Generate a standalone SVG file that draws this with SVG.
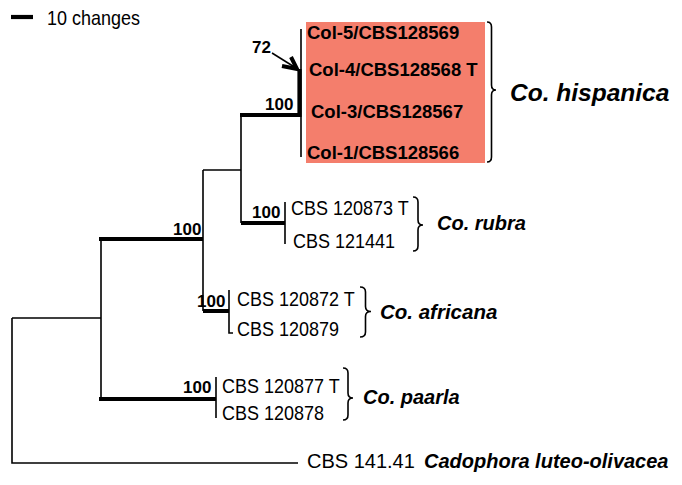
<svg xmlns="http://www.w3.org/2000/svg" width="682" height="485" viewBox="0 0 682 485">
<style>
.thin{fill:none;stroke:#000;stroke-width:1.6}
.thick{fill:none;stroke:#000;stroke-width:4.2}
.brace{fill:none;stroke:#000;stroke-width:1.6}
.reg{font-family:"Liberation Sans",Arial,sans-serif;font-size:18px;fill:#000}
.out{font-family:"Liberation Sans",Arial,sans-serif;font-size:20px;fill:#000}
.col{font-family:"Liberation Sans",Arial,sans-serif;font-size:18.5px;font-weight:bold;fill:#000}
.sup{font-family:"Liberation Sans",Arial,sans-serif;font-size:17px;font-weight:bold;fill:#000}
.sp{font-family:"Liberation Sans",Arial,sans-serif;font-weight:bold;font-style:italic;fill:#000}
</style>
<rect width="682" height="485" fill="#fff"/>
<g id="scale">
<line class="thick" x1="11" y1="17" x2="33" y2="17"/>
<text class="reg" transform="translate(47,25) scale(1,1.15)">10 changes</text>
</g>
<g id="connectors">
<path class="thin" d="M12,318 V463 H298 M12,318 H101 M101,239 V399 M203,170 V311 M203,170 H241 M241,114 V223 M301,29 V157 M285,202 V244 M229,290 V333 H233 M216,377 V418"/>
<path class="thick" d="M99,239 H203 M203,311 H229 M241,223 H285 M99,399 H216 M240,115 H301 M299.5,69 V117"/>
</g>
<g id="hispanica">
<rect x="306" y="22" width="179" height="141" fill="#F47E6C"/>
<text class="col" x="307" y="39">Col-5/CBS128569</text>
<text class="col" x="309" y="76">Col-4/CBS128568 T</text>
<text class="col" x="311" y="118">Col-3/CBS128567</text>
<text class="col" x="307" y="159">Col-1/CBS128566</text>
<path class="brace" d="M487,22 Q491.5,22 491.5,27 V85 Q491.5,90 496,90 Q491.5,90 491.5,95 V157 Q491.5,162 487,162"/>
<text class="sp" x="510" y="101" font-size="24.5">Co. hispanica</text>
<text class="sup" x="252" y="53">72</text>
<line x1="272" y1="53" x2="296" y2="68" stroke="#000" stroke-width="1.5"/>
<polyline points="282,66 297,69 291,57" fill="none" stroke="#000" stroke-width="4" stroke-linejoin="miter"/>
<text class="sup" x="265" y="110">100</text>
</g>
<g id="rubra">
<text class="sup" x="252" y="218">100</text>
<text class="reg" transform="translate(291,215) scale(1,1.15)">CBS 120873 T</text>
<text class="reg" transform="translate(293,248) scale(1,1.15)">CBS 121441</text>
<path class="brace" d="M413,197 Q418,197 418,202 V220 Q418,225 423,225 Q418,225 418,230 V246 Q418,251 413,251"/>
<text class="sp" x="437" y="230" font-size="20">Co. rubra</text>
</g>
<g id="clade">
<text class="sup" x="173" y="235">100</text>
</g>
<g id="africana">
<text class="sup" x="197" y="307">100</text>
<text class="reg" transform="translate(237,306) scale(1,1.15)">CBS 120872 T</text>
<text class="reg" transform="translate(237,336) scale(1,1.15)">CBS 120879</text>
<path class="brace" d="M360,287 Q365.5,287 365.5,292 V306.5 Q365.5,311.5 371,311.5 Q365.5,311.5 365.5,316.5 V332 Q365.5,337 360,337"/>
<text class="sp" x="380" y="319" font-size="20.5">Co. africana</text>
</g>
<g id="paarla">
<text class="sup" x="183" y="393">100</text>
<text class="reg" transform="translate(222,393) scale(1,1.15)">CBS 120877 T</text>
<text class="reg" transform="translate(222,420) scale(1,1.15)">CBS 120878</text>
<path class="brace" d="M343,368 Q348,368 348,373 V393 Q348,398 353,398 Q348,398 348,403 V415 Q348,420 343,420"/>
<text class="sp" x="363" y="404" font-size="20">Co. paarla</text>
</g>
<g id="outgroup">
<text class="out" x="307" y="468">CBS 141.41</text>
<text class="sp" x="424" y="468" font-size="20">Cadophora luteo-olivacea</text>
</g>
</svg>
